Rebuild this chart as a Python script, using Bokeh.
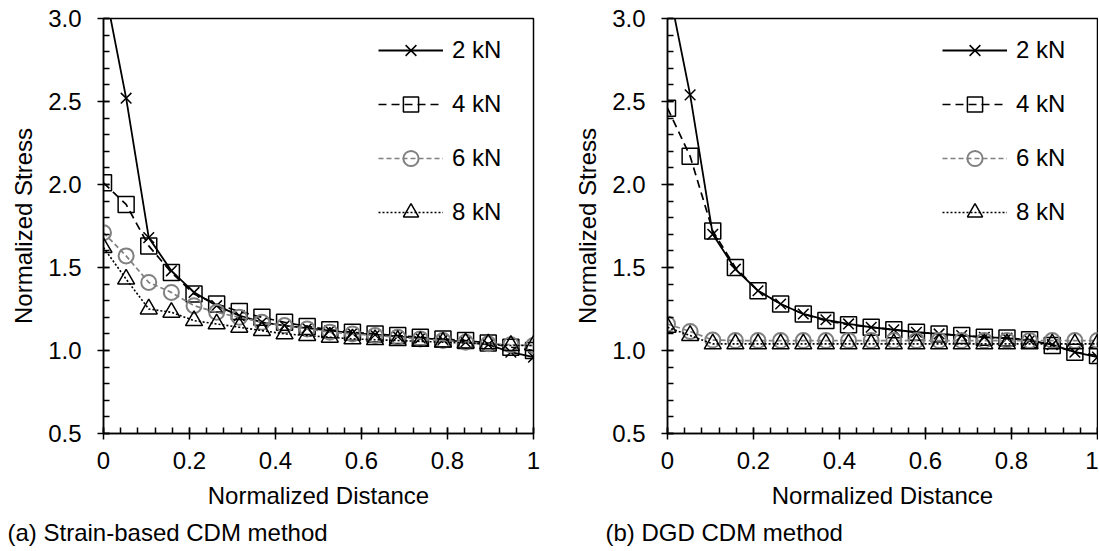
from bokeh.plotting import figure
from bokeh.layouts import row
from bokeh.models import (Legend, LegendItem, Title, CustomJSTickFormatter,
                          PrintfTickFormatter, FixedTicker, Range1d)
from bokeh.embed import file_html
from bokeh.resources import INLINE

# ---------------- data ----------------
n_pts = 20
x_vals = [k / 19 for k in range(n_pts)]

series_labels = ["2 kN", "4 kN", "6 kN", "8 kN"]

a_2kN = [3.22, 2.52, 1.68, 1.48, 1.35, 1.27, 1.21, 1.17, 1.15, 1.135,
         1.12, 1.105, 1.095, 1.085, 1.075, 1.065, 1.05, 1.035, 0.99, 0.96]
a_4kN = [2.01, 1.88, 1.63, 1.47, 1.34, 1.28, 1.235, 1.20, 1.17, 1.145,
         1.125, 1.11, 1.10, 1.09, 1.08, 1.07, 1.06, 1.045, 1.02, 1.00]
a_6kN = [1.71, 1.57, 1.41, 1.35, 1.27, 1.23, 1.20, 1.17, 1.15, 1.13,
         1.11, 1.10, 1.09, 1.08, 1.07, 1.06, 1.05, 1.04, 1.035, 1.03]
a_8kN = [1.62, 1.43, 1.25, 1.23, 1.18, 1.16, 1.14, 1.12, 1.10, 1.09,
         1.08, 1.07, 1.065, 1.06, 1.055, 1.05, 1.045, 1.04, 1.03, 1.03]

b_2kN = [3.22, 2.54, 1.70, 1.49, 1.36, 1.28, 1.22, 1.185, 1.16, 1.14,
         1.125, 1.11, 1.10, 1.09, 1.08, 1.075, 1.06, 1.035, 0.99, 0.96]
b_4kN = [2.46, 2.17, 1.72, 1.50, 1.36, 1.28, 1.22, 1.18, 1.155, 1.14,
         1.125, 1.11, 1.10, 1.09, 1.08, 1.075, 1.065, 1.03, 0.99, 0.97]
b_6kN = [1.16, 1.115, 1.063, 1.06, 1.06, 1.06, 1.06, 1.06, 1.06, 1.06,
         1.06, 1.06, 1.06, 1.06, 1.06, 1.06, 1.06, 1.06, 1.06, 1.06]
b_8kN = [1.14, 1.09, 1.04, 1.04, 1.04, 1.04, 1.04, 1.04, 1.04, 1.04,
         1.04, 1.04, 1.04, 1.04, 1.04, 1.04, 1.04, 1.04, 1.04, 1.04]

x_ticks = [0, 0.2, 0.4, 0.6, 0.8, 1.0]
y_ticks = [0.5, 1.0, 1.5, 2.0, 2.5, 3.0]

captions = ["(a) Strain-based CDM method", "(b) DGD CDM method"]
x_title = "Normalized Distance"
y_title = "Normalized Stress"

FONT = "Liberation Sans"
FS = "24px"
GRAY = "#808080"

styles = [
    dict(color="black", dash="solid", marker="x", size=15, lw=1.8),
    dict(color="black", dash="8 5", marker="square", size=16, lw=1.7),
    dict(color=GRAY, dash="5 3", marker="circle", size=15, lw=1.7),
    dict(color="black", dash="2 2", marker="triangle", size=17, lw=1.6),
]


def make_panel(series, caption, border_left, frame_w, border_right, cap_off):
    p = figure(frame_width=frame_w, frame_height=415,
               min_border_left=border_left, min_border_right=border_right,
               min_border_top=18, min_border_bottom=117,
               x_range=Range1d(0, 1), y_range=Range1d(0.5, 3.0),
               output_backend="svg", toolbar_location=None,
               background_fill_color="white", border_fill_color="white")
    p.grid.visible = False
    p.outline_line_color = "black"
    p.outline_line_width = 1.5

    items = []
    for vals, lab, st in zip(series, series_labels, styles):
        r1 = p.line(x_vals, vals, line_color=st["color"], line_width=st["lw"],
                    line_dash=st["dash"])
        r2 = p.scatter(x_vals, vals, marker=st["marker"], size=st["size"],
                       line_color=st["color"], fill_alpha=0,
                       line_width=2 if st["marker"] == "circle" else 1.5)
        items.append(LegendItem(label=lab, renderers=[r1, r2]))

    leg = Legend(items=items, location=(275, 202), padding=0, margin=0,
                 border_line_alpha=0, background_fill_alpha=0,
                 glyph_width=65, glyph_height=38, label_height=38,
                 label_standoff=9, spacing=16,
                 label_text_font=FONT, label_text_font_size=FS,
                 label_text_color="black")
    p.add_layout(leg)

    for ax in (p.xaxis[0], p.yaxis[0]):
        ax.axis_line_width = 1.5
        ax.major_tick_line_width = 1.5
        ax.minor_tick_line_width = 1.5
        ax.major_tick_in = 6
        ax.major_tick_out = 6
        ax.minor_tick_in = 6
        ax.minor_tick_out = 0
        ax.major_label_text_font = FONT
        ax.major_label_text_font_size = FS
        ax.major_label_text_color = "black"
        ax.axis_label_text_font = FONT
        ax.axis_label_text_font_size = FS
        ax.axis_label_text_font_style = "normal"
        ax.axis_label_text_color = "black"

    p.xaxis.ticker = FixedTicker(ticks=x_ticks,
                                 minor_ticks=[i * 0.04 for i in range(26)])
    p.yaxis.ticker = FixedTicker(ticks=y_ticks,
                                 minor_ticks=[0.5 + i * 0.1 for i in range(26)])
    p.xaxis.formatter = CustomJSTickFormatter(code="""
        const r = Math.round(tick);
        return (Math.abs(tick - r) < 1e-9) ? r.toString() : tick.toFixed(1);
    """)
    p.yaxis.formatter = PrintfTickFormatter(format="%.1f")
    p.xaxis.axis_label = x_title
    p.yaxis.axis_label = y_title
    p.xaxis.major_label_standoff = 12
    p.yaxis.major_label_standoff = 16
    p.xaxis.axis_label_standoff = 10
    p.yaxis.axis_label_standoff = 8

    cap = Title(text=caption, align="left", offset=cap_off, standoff=10,
                text_font=FONT, text_font_size=FS, text_font_style="normal",
                text_color="black")
    p.add_layout(cap, "below")
    return p


p1 = make_panel([a_2kN, a_4kN, a_6kN, a_8kN], captions[0], 103, 430, 17, -96)
p2 = make_panel([b_2kN, b_4kN, b_6kN, b_8kN], captions[1], 117, 430, 1, -62)

layout = row(p1, p2)
open("out.html", "w").write(file_html(layout, INLINE))
